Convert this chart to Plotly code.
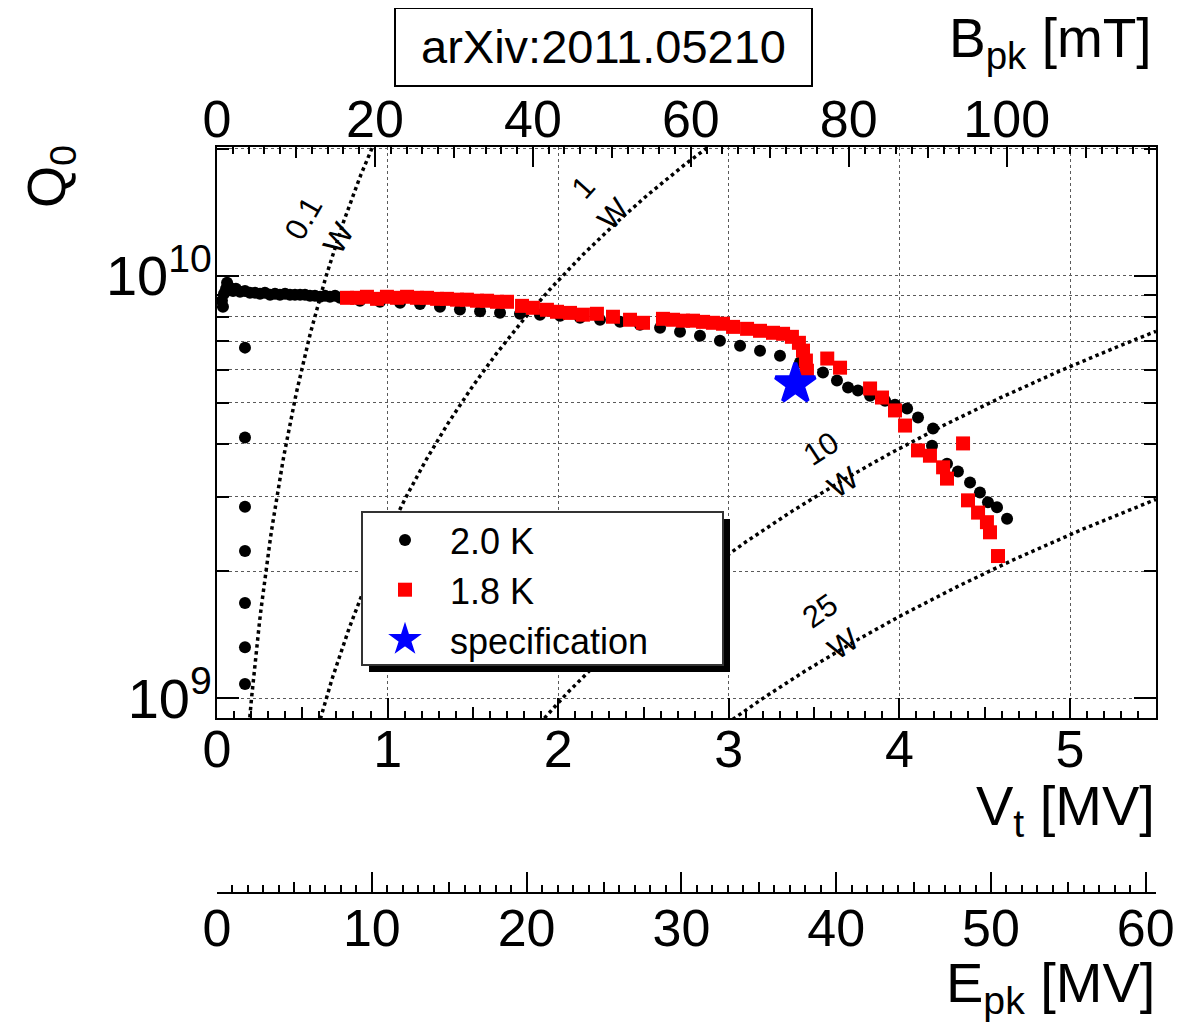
import numpy as np
import plotly.graph_objects as go

# ---------------- data ----------------
# 2.0 K measurement: accelerating voltage [MV] and Q0
v_2K = [0.029, 0.035, 0.041, 0.053, 0.059, 0.064, 0.076, 0.094, 0.111, 0.135,
        0.164, 0.164, 0.164, 0.164, 0.164, 0.164, 0.164,
        0.164, 0.193, 0.223, 0.252, 0.281, 0.311, 0.340, 0.369, 0.399, 0.428,
        0.457, 0.487, 0.516, 0.545, 0.574, 0.604, 0.633, 0.662, 0.692, 0.721,
        0.838, 0.955, 1.073, 1.190, 1.307, 1.424, 1.542, 1.659, 1.776, 1.893,
        2.011, 2.128, 2.245, 2.362, 2.479, 2.597, 2.714, 2.831, 2.948, 3.066,
        3.183, 3.300, 3.417, 3.552, 3.634, 3.699, 3.757, 3.828, 3.916, 3.974,
        4.045, 4.109, 4.197, 4.191, 4.279, 4.343, 4.414, 4.472, 4.519, 4.572,
        4.631]
q_2K = [8.73e9, 8.45e9, 9.07e9, 9.32e9, 9.63e9, 9.47e9, 9.37e9, 9.21e9, 9.32e9, 9.17e9,
        6.76e9, 4.14e9, 2.84e9, 2.23e9, 1.68e9, 1.32e9, 1.08e9,
        9.21e9, 9.12e9, 9.12e9, 9.07e9, 9.12e9, 9.02e9, 9.07e9, 9.02e9, 9.07e9, 9.02e9,
        9.02e9, 9.02e9, 9.02e9, 8.97e9, 8.97e9, 8.92e9, 8.97e9, 8.92e9, 8.97e9, 8.87e9,
        8.73e9, 8.68e9, 8.63e9, 8.57e9, 8.45e9, 8.32e9, 8.24e9, 8.18e9, 8.13e9, 8.09e9,
        8.04e9, 7.96e9, 7.87e9, 7.78e9, 7.66e9, 7.53e9, 7.37e9, 7.21e9, 7.02e9, 6.83e9,
        6.65e9, 6.47e9, 6.23e9, 5.90e9, 5.65e9, 5.44e9, 5.35e9, 5.20e9, 5.06e9, 4.95e9,
        4.85e9, 4.62e9, 4.35e9, 3.96e9, 3.59e9, 3.44e9, 3.24e9, 3.07e9, 2.91e9, 2.83e9,
        2.66e9]

# 1.8 K measurement
v_18K = [0.762, 0.821, 0.879, 0.938, 0.996, 1.055, 1.114, 1.172, 1.231, 1.290,
         1.348, 1.407, 1.465, 1.524, 1.583, 1.641, 1.700, 1.788, 1.852, 1.934,
         1.993, 2.069, 2.145, 2.227, 2.321, 2.421, 2.497, 2.614, 2.673, 2.732,
         2.790, 2.849, 2.907, 2.966, 3.025, 3.107, 3.183, 3.259, 3.318, 3.370,
         3.411, 3.435, 3.452, 3.458, 3.577, 3.652, 3.828, 3.898, 3.974, 4.033,
         4.109, 4.179, 4.256, 4.279, 4.373, 4.402, 4.461, 4.513, 4.531, 4.578]
q_18K = [8.87e9, 8.87e9, 8.92e9, 8.82e9, 8.92e9, 8.87e9, 8.92e9, 8.87e9, 8.87e9, 8.82e9,
         8.82e9, 8.78e9, 8.78e9, 8.73e9, 8.73e9, 8.68e9, 8.68e9, 8.49e9, 8.40e9, 8.31e9,
         8.22e9, 8.17e9, 8.09e9, 8.13e9, 8.00e9, 7.87e9, 7.74e9, 7.91e9, 7.87e9, 7.83e9,
         7.83e9, 7.78e9, 7.74e9, 7.70e9, 7.57e9, 7.49e9, 7.41e9, 7.33e9, 7.29e9, 7.17e9,
         6.94e9, 6.65e9, 6.30e9, 5.96e9, 6.37e9, 6.06e9, 5.41e9, 5.15e9, 4.80e9, 4.42e9,
         3.86e9, 3.75e9, 3.52e9, 3.31e9, 4.01e9, 2.94e9, 2.75e9, 2.61e9, 2.47e9, 2.17e9]

# specification point
spec_v = [3.39]
spec_q = [5.55e9]

# iso-dissipated-power lines: Q0 = Vt^2 / ((R/Q) * P)
power_levels_W = [0.1, 1.0, 10.0, 25.0]
power_labels = ["0.1<br>W", "1<br>W", "10<br>W", "25<br>W"]
r_over_q_ohm = 410.0

# axis ranges and ticks
v_range = [0.0, 5.504]          # V_t [MV]
q_log_range = [8.953, 10.305]   # log10(Q0)
b_range = [0.0, 118.9]          # B_pk [mT]
e_range = [0.0, 60.66]          # E_pk [MV]
y_major = [1e9, 1e10]
y_major_text = ["10<sup>9</sup>", "10<sup>10</sup>"]
y_minor = [2e9, 3e9, 4e9, 5e9, 6e9, 7e9, 8e9, 9e9, 2e10]

# ---------------- figure ----------------
FONT = "Liberation Sans, Arial, Helvetica, sans-serif"
OFF = 8                      # page body margin of the html page
W, H = 1186 - OFF, 1027 - OFF
ML, MR, MT, MB = 217 - OFF, 30, 147 - OFF, 134
PW, PH = W - ML - MR, H - MT - MB


def px(x):
    """page pixel x -> paper fraction"""
    return (x - OFF - ML) / PW


def py(y):
    """page pixel y -> paper fraction"""
    return (H - MB - (y - OFF)) / PH


fig = go.Figure()

v_curve = np.linspace(0.01, v_range[1], 600)
for p in power_levels_W:
    q_curve = (v_curve * 1e6) ** 2 / (r_over_q_ohm * p)
    fig.add_trace(go.Scatter(x=v_curve, y=q_curve, mode="lines",
                             line=dict(color="black", width=3.5, dash="dot"),
                             showlegend=False, hoverinfo="skip"))

fig.add_trace(go.Scatter(x=v_2K, y=q_2K, mode="markers", name="2.0 K",
                         marker=dict(symbol="circle", size=12, color="black")))
fig.add_trace(go.Scatter(x=v_18K, y=q_18K, mode="markers", name="1.8 K",
                         marker=dict(symbol="square", size=14, color="#ff0000")))
fig.add_trace(go.Scatter(x=spec_v, y=spec_q, mode="markers", name="specification",
                         marker=dict(symbol="star", size=30, color="#0000ff",
                                     line=dict(color="#0000ff", width=4))))
# carriers for the secondary axes
for xa in ["x2", "x3", "x4", "x5", "x6"]:
    fig.add_trace(go.Scatter(x=[None], y=[None], xaxis=xa, yaxis="y",
                             showlegend=False, hoverinfo="skip"))

tickfont = dict(family=FONT, size=52, color="black")
common = dict(showline=True, linecolor="black", linewidth=2,
              ticks="inside", tickcolor="black", tickwidth=2, zeroline=False)
grid = dict(gridcolor="#5a5a5a", griddash="dot", gridwidth=1)
minor_common = dict(ticks="inside", tickcolor="black", tickwidth=1.5, showgrid=False)
half_common = dict(ticks="inside", tickcolor="black", tickwidth=1.5, ticklen=11,
                   showticklabels=False, showline=False, showgrid=False, zeroline=False)

ydom0 = (H - MB - (718 - OFF)) / PH

fig.update_layout(
    width=W, height=H,
    margin=dict(l=ML, r=MR, t=MT, b=MB),
    paper_bgcolor="white", plot_bgcolor="white",
    showlegend=True,
    xaxis=dict(range=v_range, domain=[0, 1], anchor="y", tick0=0, dtick=1,
               ticklen=20, mirror=True, showgrid=True, **grid,
               ticklabelstandoff=-15, tickfont=tickfont,
               minor=dict(dtick=0.1, tick0=0, ticklen=7, **minor_common),
               **common),
    xaxis2=dict(range=b_range, overlaying="x", side="top", anchor="y",
                tick0=0, dtick=20, ticklen=20, showgrid=False,
                ticklabelstandoff=-13, tickfont=tickfont,
                minor=dict(dtick=2, tick0=0, ticklen=7, **minor_common),
                **common),
    xaxis3=dict(range=e_range, overlaying="x", side="bottom", anchor="free",
                position=0, tick0=0, dtick=10, ticklen=20, showgrid=False,
                ticklabelstandoff=-10, tickfont=tickfont,
                minor=dict(dtick=1, tick0=0, ticklen=7, **minor_common),
                **common),
    # half-interval ticks (medium length)
    xaxis4=dict(range=v_range, overlaying="x", side="bottom", anchor="y",
                tick0=0, dtick=0.5, **half_common),
    xaxis5=dict(range=b_range, overlaying="x", side="top", anchor="y",
                tick0=0, dtick=10, **half_common),
    xaxis6=dict(range=e_range, overlaying="x", side="bottom", anchor="free",
                position=0, tick0=0, dtick=5, **half_common),
    yaxis=dict(type="log", range=q_log_range, domain=[ydom0, 1], anchor="x",
               tickmode="array", tickvals=y_major, ticktext=y_major_text,
               ticklen=22, mirror="ticks", showgrid=True, **grid,
               ticklabelstandoff=-8,
               tickfont=dict(family=FONT, size=56, color="black"),
               minor=dict(tickmode="array", tickvals=y_minor, ticklen=12,
                          ticks="inside", tickcolor="black", tickwidth=1.5,
                          showgrid=True, **grid),
               **common),
    legend=dict(x=px(360), y=py(510), xanchor="left", yanchor="top",
                bgcolor="rgba(0,0,0,0)", borderwidth=0, itemwidth=80,
                font=dict(family=FONT, size=36, color="black"),
                itemsizing="trace", tracegroupgap=0),
    hovermode=False,
)

shapes = [
    # legend shadow and box
    dict(type="rect", xref="paper", yref="paper", x0=px(369), x1=px(730),
         y0=py(672), y1=py(519), fillcolor="black", line=dict(width=0), layer="above"),
    dict(type="rect", xref="paper", yref="paper", x0=px(362), x1=px(723),
         y0=py(665), y1=py(512), fillcolor="white",
         line=dict(color="#333333", width=2), layer="above"),
    # arXiv box
    dict(type="rect", xref="paper", yref="paper", x0=px(395), x1=px(812),
         y0=py(86), y1=py(8), fillcolor="white",
         line=dict(color="black", width=2), layer="above"),
]
fig.update_layout(shapes=shapes)

ann = [
    dict(text="arXiv:2011.05210", x=px(603), y=py(47), font=dict(size=47)),
    dict(text="B<sub>pk</sub> [mT]", x=px(1154), y=py(42), xanchor="right", font=dict(size=55)),
    dict(text="V<sub>t</sub> [MV]", x=px(1157), y=py(809), xanchor="right", font=dict(size=56)),
    dict(text="E<sub>pk</sub> [MV]", x=px(1157), y=py(986), xanchor="right", font=dict(size=56)),
    dict(text="Q<sub>0</sub>", x=px(50), y=py(177), textangle=-90, font=dict(size=54)),
]
label_pos = [(321, 229, -60), (598, 200, -48), (832, 466, -33), (831, 627, -35)]
for lab, (lx, ly, ang) in zip(power_labels, label_pos):
    ann.append(dict(text=lab, x=px(lx), y=py(ly), textangle=ang, font=dict(size=31)))

for a in ann:
    a.setdefault("xanchor", "center")
    a.setdefault("yanchor", "middle")
    a["xref"] = "paper"
    a["yref"] = "paper"
    a["showarrow"] = False
    a["font"] = dict(family=FONT, color="black", **a["font"])
fig.update_layout(annotations=ann)

fig.write_html("out.html")
